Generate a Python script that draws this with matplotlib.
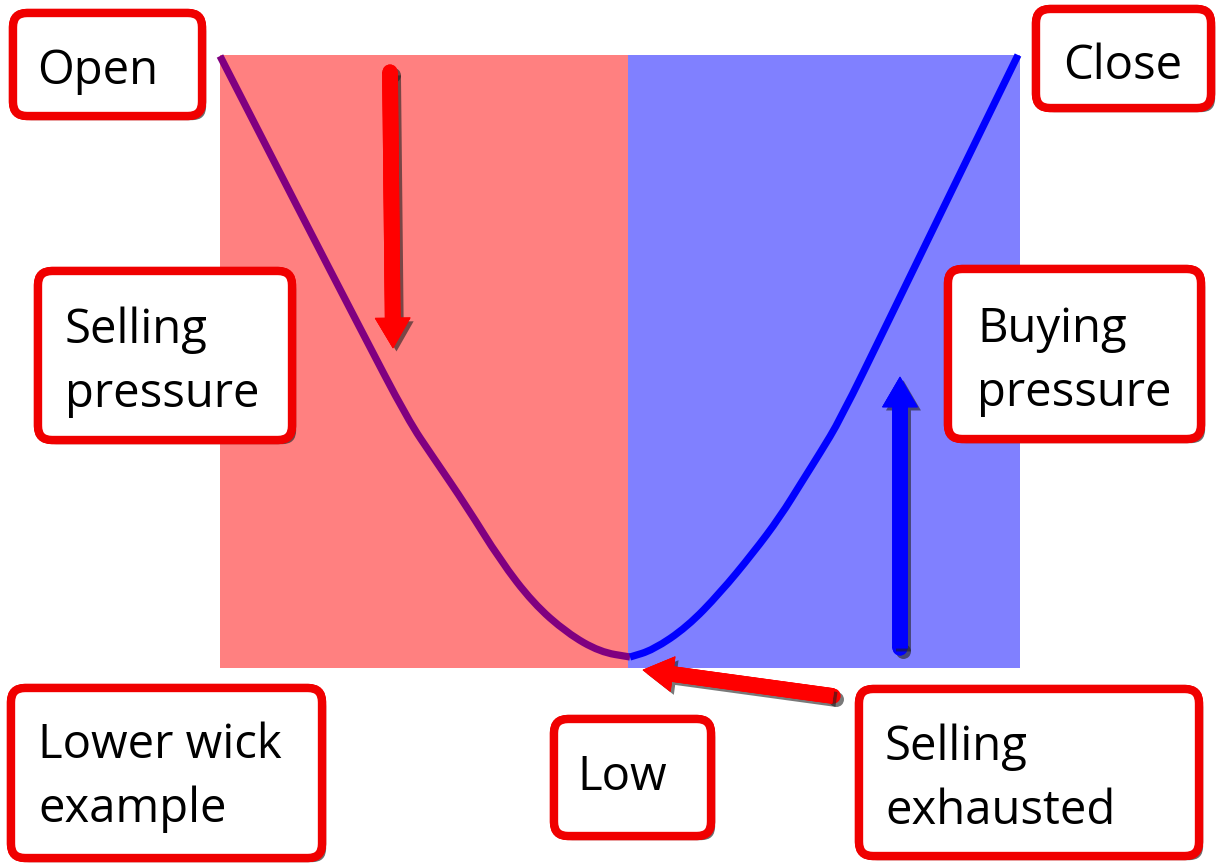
import matplotlib
matplotlib.use("Agg")
import matplotlib.pyplot as plt
from matplotlib.patches import FancyBboxPatch, Rectangle, FancyArrow, PathPatch, Circle
from matplotlib.path import Path
import matplotlib.patheffects as pe

# ---- data (pixel-like units) ----
left_x = [220, 300, 360, 408, 433, 467, 500, 533, 567, 600, 630]
left_y = [56, 212, 328, 420, 457, 507, 560, 603, 633, 652, 657]
right_x = [630, 653, 687, 720, 753, 780, 803, 820, 840, 887, 953, 1018]
right_y = [657, 650, 627, 593, 553, 517, 480, 453, 420, 324, 188, 55]

box_labels = [["Open"], ["Close"], ["Selling", "pressure"], ["Buying", "pressure"],
              ["Lower wick", "example"], ["Low"], ["Selling", "exhausted"]]

# ---- layout ----
boxes = [  # x0, y0, x1, y1, text_x, first_baseline, align
    (13, 13, 202, 116, 98, 84, "center"),
    (1036, 9, 1211, 108, 1123, 79, "center"),
    (38, 271, 292, 440, 65, 343, "left"),
    (948, 269, 1201, 439, 977, 342, "left"),
    (11, 688, 322, 858, 38, 758, "left"),
    (554, 719, 711, 836, 577, 790, "left"),
    (859, 689, 1199, 856, 885, 760, "left"),
]
line_gap = 64

fig = plt.figure(figsize=(12.26, 8.65), dpi=100)
ax = fig.add_axes([0, 0, 1, 1])
ax.set_xlim(0, 1226)
ax.set_ylim(865, 0)
ax.axis("off")

# background panels
ax.add_patch(Rectangle((220, 55), 408, 613, facecolor="#ff8080", edgecolor="none", zorder=1))
ax.add_patch(Rectangle((628, 55), 392, 613, facecolor="#8080ff", edgecolor="none", zorder=1))


def smooth_path(xs, ys):
    """Quadratic-Bezier rendering through the read points (midpoint scheme)."""
    pts = list(zip(xs, ys))
    verts = [pts[0]]
    codes = [Path.MOVETO]
    mid = ((pts[0][0] + pts[1][0]) / 2, (pts[0][1] + pts[1][1]) / 2)
    verts.append(mid)
    codes.append(Path.LINETO)
    for i in range(1, len(pts) - 1):
        nxt = ((pts[i][0] + pts[i + 1][0]) / 2, (pts[i][1] + pts[i + 1][1]) / 2)
        verts += [pts[i], nxt]
        codes += [Path.CURVE3, Path.CURVE3]
    verts.append(pts[-1])
    codes.append(Path.LINETO)
    return Path(verts, codes)


ax.add_patch(PathPatch(smooth_path(left_x, left_y), facecolor="none", edgecolor="#800080",
                       lw=5.2, capstyle="butt", zorder=3))
ax.add_patch(PathPatch(smooth_path(right_x, right_y), facecolor="none", edgecolor="#0000ff",
                       lw=5.2, capstyle="butt", zorder=3))

shadow = [pe.withSimplePatchShadow(offset=(2.5, -2.5), shadow_rgbFace="#202020", alpha=0.6), pe.Normal()]


def arrow(x0, y0, x1, y1, color):
    dx, dy = x1 - x0, y1 - y0
    w = 15
    c = Circle((x0, y0), w / 2, facecolor=color, edgecolor="none", zorder=4)
    c.set_path_effects(shadow)
    ax.add_patch(c)
    a = FancyArrow(x0, y0, dx, dy, width=w, head_width=35, head_length=30,
                   length_includes_head=True, facecolor=color, edgecolor=color,
                   lw=0.5, zorder=4)
    a.set_path_effects(shadow)
    ax.add_patch(a)


arrow(390, 72, 393, 348, "#ff0000")
arrow(900, 648, 900, 377, "#0000ff")
arrow(833, 696, 643, 670, "#ff0000")

# text boxes
for lab, (x0, y0, x1, y1, tx, by, al) in zip(box_labels, boxes):
    p = FancyBboxPatch((x0, y0), x1 - x0, y1 - y0,
                       boxstyle="round,pad=0,rounding_size=14",
                       facecolor="white", edgecolor="#f00000", lw=6, zorder=5)
    p.set_path_effects([pe.withSimplePatchShadow(offset=(3, -3), shadow_rgbFace="#303030", alpha=0.7), pe.Normal()])
    ax.add_patch(p)
    for i, line in enumerate(lab):
        ax.text(tx, by + i * line_gap, line, ha=al, va="baseline",
                fontsize=34, family="Open Sans", color="black", zorder=6)

fig.savefig("out.png", dpi=100, facecolor="white")
